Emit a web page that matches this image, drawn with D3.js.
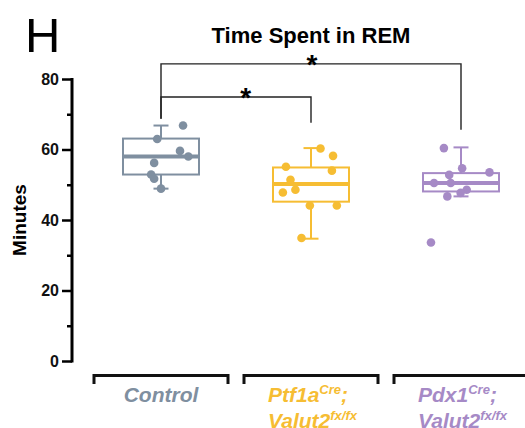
<!DOCTYPE html>
<html><head><meta charset="utf-8">
<script src="https://cdn.jsdelivr.net/npm/d3@7"></script>
<style>body{margin:0;background:#fff}svg{display:block}text{font-family:"Liberation Sans",Arial,Helvetica,sans-serif}</style>
</head><body><svg id="c" width="525" height="428"></svg>
<script>
const categories = ["Control", "Ptf1a", "Pdx1"];
const colors = ["#7f8fa0", "#f6bd33", "#a68ac6"];
const q1 = [52.9, 45.2, 48.1];
const medians = [58.0, 50.2, 50.5];
const q3 = [63.1, 54.9, 53.3];
const whiskerLow = [48.9, 34.7, 46.7];
const whiskerHigh = [66.8, 60.4, 60.6];
const controlValues = [66.8, 63.0, 59.6, 58.0, 56.2, 52.9, 51.7, 48.9];
const controlJitter = [0.58, -0.1, 0.5, 0.72, -0.18, -0.26, -0.18, 0.0];
const ptf1aValues = [60.3, 58.2, 55.1, 54.0, 51.4, 48.6, 47.8, 44.1, 44.1, 34.9];
const ptf1aJitter = [0.25, 0.58, -0.66, 0.55, -0.54, -0.41, -0.74, -0.03, 0.68, -0.25];
const pdx1Values = [60.4, 54.7, 53.5, 52.8, 50.5, 50.5, 48.6, 47.7, 46.7, 33.6];
const pdx1Jitter = [-0.45, 0.03, 0.75, -0.31, -0.71, -0.27, 0.15, -0.01, -0.36, -0.79];
const yTicks = [0, 20, 40, 60, 80];
const yMinorTicks = [10, 30, 50, 70];
const comparisons = [
  {from: 0, to: 1, level: 74.9, ends: [68.7, 67.6], label: "*", at: 0.565},
  {from: 0, to: 2, level: 84.3, ends: [68.7, 65.6], label: "*", at: 0.503}
];

const values = [controlValues, ptf1aValues, pdx1Values];
const jitters = [controlJitter, ptf1aJitter, pdx1Jitter];

const svg = d3.select("#c");
const y = d3.scaleLinear().domain([0, 80]).range([361, 79]);
const x = d3.scalePoint().domain(categories).range([161, 461]);
const boxW = 76, capW = 15, half = 38;

// H label
svg.append("text").attr("x", 25).attr("y", 52).attr("font-size", 49).attr("fill", "#000").text("H");
// title
svg.append("text").attr("x", 311).attr("y", 43).attr("text-anchor", "middle")
  .attr("font-size", 22).attr("font-weight", "bold").text("Time Spent in REM");

// y axis
const axis = svg.append("g").attr("transform", "translate(72,0)")
  .call(d3.axisLeft(y).tickValues(yTicks).tickSize(10).tickSizeOuter(0).tickPadding(3).tickFormat(d3.format("d")));
axis.select(".domain").attr("stroke-width", 3).attr("d", `M0,${y(80)-1}V${y(0)+1.5}`);
axis.selectAll(".tick line").attr("stroke-width", 2.5);
axis.selectAll(".tick text").attr("font-size", 16).attr("font-weight", "bold")
  .attr("font-family", '"Liberation Sans",Arial,sans-serif').attr("fill", "#111");
const minor = svg.append("g").attr("transform", "translate(72,0)")
  .call(d3.axisLeft(y).tickValues(yMinorTicks).tickSize(5).tickSizeOuter(0).tickFormat(""));
minor.select(".domain").remove();
minor.selectAll(".tick line").attr("stroke-width", 2.5);

svg.append("text").attr("transform", `translate(26,${(y(0)+y(80))/2}) rotate(-90)`)
  .attr("text-anchor", "middle").attr("font-size", 19).attr("font-weight", "bold").text("Minutes");

// boxes
categories.forEach((c, i) => {
  const cx = x(c), col = colors[i];
  const g = svg.append("g");
  g.append("line").attr("x1", cx).attr("x2", cx).attr("y1", y(whiskerHigh[i])).attr("y2", y(q3[i]))
    .attr("stroke", col).attr("stroke-width", 2);
  g.append("line").attr("x1", cx).attr("x2", cx).attr("y1", y(q1[i])).attr("y2", y(whiskerLow[i]))
    .attr("stroke", col).attr("stroke-width", 2);
  [whiskerHigh[i], whiskerLow[i]].forEach(v => {
    g.append("line").attr("x1", cx - capW/2).attr("x2", cx + capW/2).attr("y1", y(v)).attr("y2", y(v))
      .attr("stroke", col).attr("stroke-width", 2);
  });
  g.append("rect").attr("x", cx - boxW/2).attr("y", y(q3[i])).attr("width", boxW)
    .attr("height", y(q1[i]) - y(q3[i])).attr("fill", "none").attr("stroke", col).attr("stroke-width", 2);
  g.append("line").attr("x1", cx - boxW/2).attr("x2", cx + boxW/2).attr("y1", y(medians[i])).attr("y2", y(medians[i]))
    .attr("stroke", col).attr("stroke-width", 4);
  g.selectAll("circle").data(values[i]).enter().append("circle")
    .attr("cx", (d, j) => cx + jitters[i][j] * half).attr("cy", d => y(d)).attr("r", 4.3).attr("fill", col);
});

// significance brackets
comparisons.forEach(cp => {
  const x1 = x(categories[cp.from]), x2 = x(categories[cp.to]), ly = y(cp.level);
  svg.append("path").attr("d", `M${x1},${y(cp.ends[0])}V${ly}H${x2}V${y(cp.ends[1])}`)
    .attr("fill", "none").attr("stroke", "#222").attr("stroke-width", 1.4);
  svg.append("text").attr("x", x1 + (x2 - x1) * cp.at).attr("y", ly + 10).attr("text-anchor", "middle")
    .attr("font-size", 28).attr("font-weight", "bold").text(cp.label);
});

// bottom category brackets
categories.forEach((c, i) => {
  const cx = x(c);
  svg.append("path").attr("d", `M${cx-67},384V375.5H${cx+67}V384`).attr("fill", "none")
    .attr("stroke", "#111").attr("stroke-width", 3);
});

// category labels
function lab(xx, yy, col, anchor, main, sup) {
  const tx = svg.append("text").attr("x", xx).attr("y", yy).attr("fill", col)
    .attr("font-size", 21).attr("font-weight", "bold").attr("font-style", "italic").attr("text-anchor", anchor);
  tx.append("tspan").text(main);
  if (sup) {
    tx.append("tspan").attr("font-size", 13).attr("dy", -8).text(sup.s);
    if (sup.after) tx.append("tspan").attr("dy", 8).text(sup.after);
  }
}
lab(x("Control"), 402, colors[0], "middle", "Control");
lab(268, 402, colors[1], "start", "Ptf1a", {s: "Cre", after: ";"});
lab(268, 428, colors[1], "start", "Valut2", {s: "fx/fx"});
lab(418, 402, colors[2], "start", "Pdx1", {s: "Cre", after: ";"});
lab(418, 428, colors[2], "start", "Valut2", {s: "fx/fx"});
</script></body></html>
